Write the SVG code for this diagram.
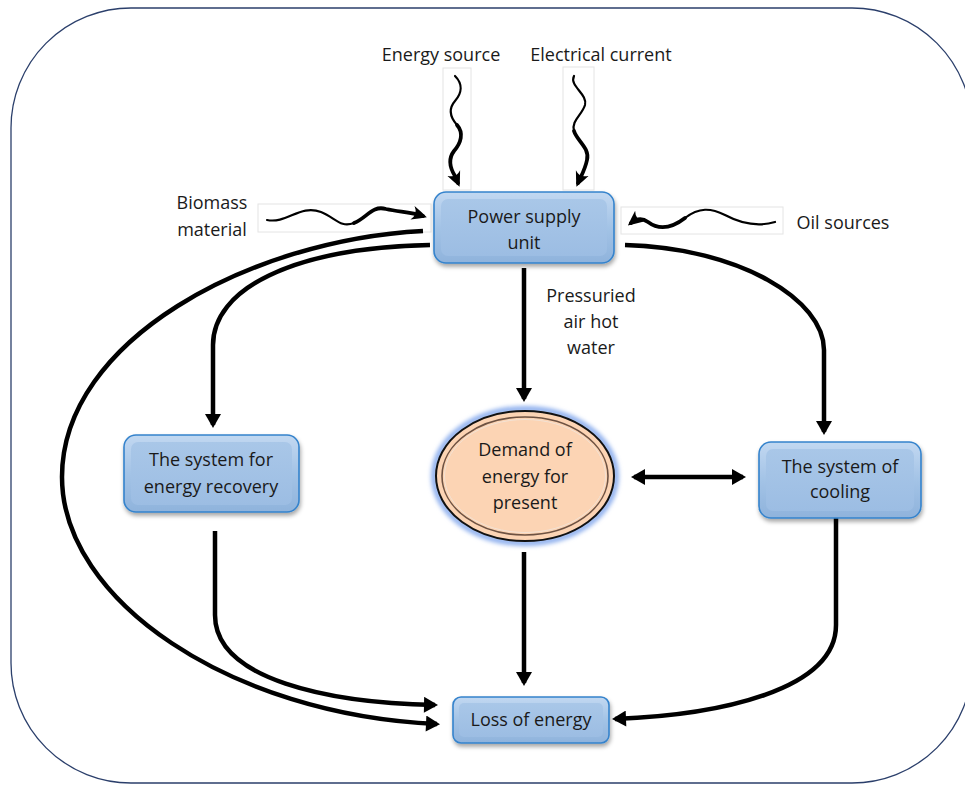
<svg xmlns="http://www.w3.org/2000/svg" width="965" height="785" viewBox="0 0 965 785">
<style>
  text { font-family: "Open Sans", "Liberation Sans", sans-serif; font-size: 18px; fill: #1a1a1a; text-anchor: middle; }
  .conn { fill: none; stroke: #000; stroke-width: 4.5; }
  .wave { fill: none; stroke: #000; stroke-linecap: round; }
  .img { fill: #fff; stroke: #e4e4e4; stroke-width: 1; }
  .box { fill: url(#boxGrad); stroke: #3583cc; stroke-width: 1.6; }
  .bevel { fill: url(#bevelGrad); stroke: none; }
</style>
<defs>
  <linearGradient id="boxGrad" x1="0" y1="0" x2="0" y2="1">
    <stop offset="0" stop-color="#c2d8f1"/>
    <stop offset="0.5" stop-color="#a3c3e6"/>
    <stop offset="1" stop-color="#8fb3dc"/>
  </linearGradient>
  <linearGradient id="bevelGrad" x1="0" y1="0" x2="0" y2="1">
    <stop offset="0" stop-color="#a9c7e8"/>
    <stop offset="1" stop-color="#9cbde3"/>
  </linearGradient>
  <filter id="shadow" x="-20%" y="-20%" width="140%" height="150%">
    <feDropShadow dx="1" dy="3" stdDeviation="2" flood-color="#000" flood-opacity="0.35"/>
  </filter>
  <filter id="glow" x="-20%" y="-20%" width="140%" height="140%">
    <feGaussianBlur stdDeviation="2"/>
  </filter>
  <marker id="arr" markerUnits="userSpaceOnUse" markerWidth="16" markerHeight="16" viewBox="0 0 14 16" refX="11" refY="8" orient="auto-start-reverse">
    <path d="M0,0 L14,8 L0,16 Z" fill="#000"/>
  </marker>
  <marker id="arrS" markerUnits="userSpaceOnUse" markerWidth="15" markerHeight="15" viewBox="0 0 15 15" refX="11" refY="7.5" orient="auto">
    <path d="M0,0.5 Q8,4 15,7.5 Q8,11 0,14.5 Q6,7.5 0,0.5 Z" fill="#000"/>
  </marker>
</defs>

<!-- outer frame -->
<rect x="11" y="8" width="961" height="775" rx="120" ry="120" fill="#fff" stroke="#2b3f6b" stroke-width="1.3"/>

<!-- source image frames and labels -->
<g id="energy-source">
  <rect class="img" x="443" y="68" width="28" height="122"/>
  <text x="441" y="61">Energy source</text>
  <path class="wave" stroke-width="2.2" d="M455,76 C463,84 462,93 455,101 C448,109 450,117 457,125"/>
  <path class="wave" stroke-width="3.8" d="M457,125 C464,133 461,143 454,151 C448,159 450,168 455,176 L458,183" marker-end="url(#arrS)"/>
</g>
<g id="electrical-current">
  <rect class="img" x="563" y="67" width="31" height="123"/>
  <text x="601" y="61">Electrical current</text>
  <path class="wave" stroke-width="2.2" d="M574,76 C569,86 588,94 585,105 C582,115 571,121 574,131"/>
  <path class="wave" stroke-width="3.8" d="M574,131 C577,141 590,148 587,160 C585,170 581,176 578,183" marker-end="url(#arrS)"/>
</g>
<g id="biomass-material">
  <rect class="img" x="258" y="204" width="173" height="28"/>
  <text x="212" y="209">Biomass</text>
  <text x="212" y="236">material</text>
  <path class="wave" stroke-width="2.2" d="M267,220 C287,224 300,204 321,212 C336,218 340,228 354,223"/>
  <path class="wave" stroke-width="3.8" d="M354,223 C367,218 372,205 386,209 C400,212 410,212 423,216" marker-end="url(#arrS)"/>
</g>
<g id="oil-sources">
  <rect class="img" x="621" y="207" width="162" height="27"/>
  <text x="843" y="229">Oil sources</text>
  <path class="wave" stroke-width="2.2" d="M775,222 C758,227 740,223 725,215 C711,208 699,207 685,218"/>
  <path class="wave" stroke-width="3.8" d="M685,218 C672,228 660,231 648,222 C641,217 636,219 631,223" marker-end="url(#arrS)"/>
</g>

<!-- connectors -->
<g id="connectors">
  <path class="conn" d="M423,231 C250,240 62,340 62,477 C62,600 230,715 437,724" marker-end="url(#arr)"/>
  <path class="conn" d="M430,245 C290,248 213,290 213,345 L213,425" marker-end="url(#arr)"/>
  <path class="conn" d="M625,245 C740,248 824,300 824,350 L824,432" marker-end="url(#arr)"/>
  <path class="conn" d="M524,268 L524,399" marker-end="url(#arr)"/>
  <path class="conn" d="M215,531 L215,615 C215,680 330,703 435,705" marker-end="url(#arr)"/>
  <path class="conn" d="M524,552 L524,683" marker-end="url(#arr)"/>
  <path class="conn" d="M836,518 L836,625 C836,690 720,715 615,719" marker-end="url(#arr)"/>
  <path class="conn" d="M634,477 L743,477" marker-start="url(#arr)" marker-end="url(#arr)"/>
</g>

<!-- Pressuried air hot water label -->
<g id="pressuried-label">
  <text x="591" y="302">Pressuried</text>
  <text x="591" y="328">air hot</text>
  <text x="591" y="354">water</text>
</g>

<!-- nodes -->
<g id="power-supply-unit">
  <rect class="box" x="434" y="192" width="180" height="71" rx="12" filter="url(#shadow)"/>
  <rect class="bevel" x="441" y="199" width="166" height="57" rx="7"/>
  <text x="524" y="223">Power supply</text>
  <text x="524" y="249">unit</text>
</g>

<g id="energy-recovery">
  <rect class="box" x="124" y="435" width="175" height="77" rx="12" filter="url(#shadow)"/>
  <rect class="bevel" x="131" y="442" width="161" height="63" rx="7"/>
  <text x="211" y="466">The system for</text>
  <text x="211" y="493">energy recovery</text>
</g>

<g id="demand">
  <ellipse cx="525" cy="476" rx="91" ry="67" fill="none" stroke="#8fb0ee" stroke-width="6" filter="url(#glow)"/>
  <ellipse cx="525" cy="476" rx="89" ry="65" fill="#fcd4b4" stroke="#111" stroke-width="2"/>
  <ellipse cx="525" cy="476" rx="83" ry="59" fill="none" stroke="#6e5242" stroke-width="1.6"/>
  <ellipse cx="525" cy="476" rx="80.5" ry="56.5" fill="none" stroke="#f3e2d4" stroke-width="1"/>
  <text x="525" y="456">Demand of</text>
  <text x="525" y="483">energy for</text>
  <text x="525" y="509">present</text>
</g>

<g id="cooling">
  <rect class="box" x="759" y="442" width="162" height="76" rx="12" filter="url(#shadow)"/>
  <rect class="bevel" x="766" y="449" width="148" height="62" rx="7"/>
  <text x="840" y="473">The system of</text>
  <text x="840" y="498">cooling</text>
</g>

<g id="loss-of-energy">
  <rect class="box" x="453" y="697" width="156" height="46" rx="8" filter="url(#shadow)"/>
  <rect class="bevel" x="459" y="703" width="144" height="34" rx="5"/>
  <text x="531" y="726">Loss of energy</text>
</g>
</svg>
